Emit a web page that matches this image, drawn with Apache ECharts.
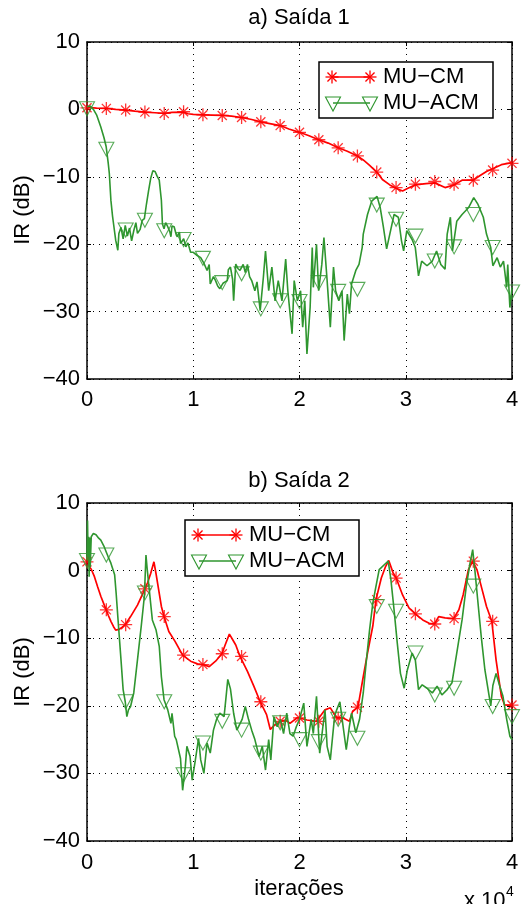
<!DOCTYPE html>
<html><head><meta charset="utf-8">
<script src="https://cdn.jsdelivr.net/npm/echarts@6/dist/echarts.min.js"></script>
<style>html,body{margin:0;padding:0;background:#fff}#c{width:526px;height:904px}</style>
</head><body><div id="c"></div>
<script>
// ---- data (x in units of 10^4 iterations, y in dB) ----
const xTicks = [0, 1, 2, 3, 4];
const yTicks = [-40, -30, -20, -10, 0, 10];
const markerX = [0, 0.182, 0.364, 0.545, 0.727, 0.909, 1.091, 1.273, 1.455, 1.636, 1.818, 2.0, 2.182, 2.364, 2.545, 2.727, 2.909, 3.091, 3.273, 3.455, 3.636, 3.818, 4.0];

// a) Saída 1
const cm1 = [[0,0.3],[0.09,0.2],[0.18,0.15],[0.27,0.0],[0.36,-0.1],[0.45,-0.25],[0.545,-0.4],[0.64,-0.5],[0.727,-0.6],[0.8,-0.45],[0.909,-0.4],[0.95,-0.65],[1.0,-0.75],[1.09,-0.8],[1.18,-0.85],[1.27,-0.9],[1.36,-1.0],[1.455,-1.2],[1.55,-1.5],[1.636,-1.85],[1.72,-2.1],[1.818,-2.4],[1.9,-2.9],[2.0,-3.4],[2.09,-3.9],[2.18,-4.5],[2.27,-5.0],[2.364,-5.7],[2.45,-6.2],[2.545,-6.9],[2.6,-7.5],[2.66,-8.3],[2.727,-9.3],[2.78,-10.4],[2.85,-11.2],[2.909,-11.7],[2.97,-12.1],[3.02,-11.7],[3.091,-11.2],[3.19,-11.0],[3.273,-10.9],[3.37,-11.6],[3.455,-11.2],[3.53,-10.5],[3.636,-10.5],[3.7,-9.8],[3.76,-9.2],[3.818,-8.8],[3.9,-8.2],[4.0,-7.9]];
const cm1Mk = [0.24,0.15,-0.1,-0.4,-0.6,-0.35,-0.8,-0.9,-1.2,-1.85,-2.4,-3.4,-4.5,-5.7,-6.9,-9.3,-11.6,-11.1,-10.7,-11.1,-10.5,-9.0,-8.0];
const acm1 = [[0,0.4],[0.03,0.5],[0.06,0.0],[0.09,-0.8],[0.13,-2.6],[0.16,-4.2],[0.18,-5.5],[0.2,-8.0],[0.21,-9.5],[0.225,-13.5],[0.24,-15.8],[0.25,-17.0],[0.27,-19.4],[0.29,-20.9],[0.30,-18.4],[0.32,-17.5],[0.34,-19.2],[0.36,-17.2],[0.38,-18.8],[0.40,-17.6],[0.42,-19.5],[0.44,-18.0],[0.46,-16.8],[0.475,-18.4],[0.50,-17.8],[0.52,-16.45],[0.54,-16.2],[0.56,-14.0],[0.58,-12.0],[0.60,-10.2],[0.62,-9.1],[0.64,-9.2],[0.66,-9.9],[0.68,-10.5],[0.69,-12.0],[0.70,-13.5],[0.71,-17.0],[0.725,-17.7],[0.74,-16.8],[0.76,-17.4],[0.78,-18.2],[0.79,-18.9],[0.80,-17.3],[0.82,-17.4],[0.84,-18.6],[0.85,-18.9],[0.87,-18.2],[0.88,-19.9],[0.91,-19.2],[0.93,-20.4],[0.95,-19.8],[0.975,-21.2],[1.0,-21.2],[1.03,-21.6],[1.07,-22.0],[1.1,-22.8],[1.13,-23.9],[1.15,-23.0],[1.16,-25.9],[1.19,-24.8],[1.21,-25.4],[1.23,-26.2],[1.25,-26.6],[1.28,-25.8],[1.32,-25.4],[1.33,-23.8],[1.35,-23.4],[1.37,-25.2],[1.38,-28.4],[1.40,-22.96],[1.42,-23.6],[1.44,-23.9],[1.47,-23.0],[1.49,-24.2],[1.51,-23.0],[1.53,-24.8],[1.55,-25.4],[1.58,-26.9],[1.6,-25.6],[1.63,-29.85],[1.66,-24.9],[1.68,-21],[1.71,-26.9],[1.74,-23.4],[1.77,-28.4],[1.80,-25.4],[1.835,-28.4],[1.87,-22.2],[1.89,-26.9],[1.93,-33.3],[1.95,-25.4],[1.98,-28.4],[2.01,-26.9],[2.03,-32.3],[2.05,-28.4],[2.07,-36.3],[2.10,-29.4],[2.12,-20.5],[2.13,-26.4],[2.16,-20],[2.18,-26.9],[2.21,-23],[2.23,-19],[2.26,-25.4],[2.29,-32.3],[2.32,-23.4],[2.34,-26.9],[2.37,-28.4],[2.40,-26.9],[2.42,-34.3],[2.45,-27.4],[2.47,-30.3],[2.49,-25.9],[2.53,-23.9],[2.56,-23],[2.59,-20.5],[2.60,-18.5],[2.64,-15.6],[2.68,-13.6],[2.73,-12.9],[2.76,-14.6],[2.79,-17.5],[2.82,-20.7],[2.85,-18.5],[2.89,-15.6],[2.93,-16],[2.96,-19.5],[2.98,-21],[3.01,-18],[3.06,-19.3],[3.09,-20.5],[3.12,-24.7],[3.15,-22.5],[3.2,-23.2],[3.25,-22.5],[3.29,-21],[3.33,-23],[3.37,-23.7],[3.39,-18.5],[3.42,-16],[3.44,-21],[3.48,-16.6],[3.53,-15.6],[3.59,-14.6],[3.64,-13.1],[3.68,-14.1],[3.73,-16],[3.76,-18.5],[3.80,-20.5],[3.82,-23.2],[3.86,-22],[3.89,-23.4],[3.92,-22.5],[3.95,-26.4],[3.96,-23],[3.98,-29.4],[4.0,-26.4]];
const acm1Mk = [0.1,-5.9,-17.9,-16.45,-18.0,-19.3,-22.1,-25.7,-24.4,-29.6,-28.4,-28.5,-25.7,-27.0,-26.7,-14.2,-16.3,-18.8,-22.5,-20.4,-15.6,-20.5,-27.1];

// b) Saída 2
const cm2 = [[0,1.5],[0.01,2.3],[0.02,0.6],[0.04,0.2],[0.07,-0.9],[0.10,-2.4],[0.13,-3.8],[0.16,-5.0],[0.18,-5.8],[0.2,-6.6],[0.225,-7.5],[0.25,-8.3],[0.27,-8.8],[0.30,-8.7],[0.32,-8.5],[0.36,-8.0],[0.41,-6.8],[0.475,-5.1],[0.54,-2.9],[0.57,-1.8],[0.60,-0.4],[0.63,1.3],[0.65,-0.5],[0.67,-2.4],[0.70,-5.3],[0.725,-6.8],[0.77,-9.0],[0.83,-10.5],[0.90,-12.5],[0.975,-13.4],[1.04,-13.8],[1.09,-13.9],[1.15,-14.2],[1.21,-13.4],[1.27,-12.3],[1.30,-11.0],[1.34,-9.4],[1.37,-10.2],[1.40,-11.0],[1.44,-12.7],[1.51,-14.9],[1.57,-17.1],[1.63,-19.4],[1.69,-21.3],[1.725,-23.5],[1.77,-22.8],[1.82,-22.3],[1.87,-22.1],[1.91,-22.6],[1.975,-21.8],[2.0,-21.8],[2.07,-22.1],[2.16,-22.3],[2.24,-20.6],[2.29,-20.3],[2.35,-21.8],[2.41,-21.8],[2.47,-22.3],[2.50,-20.8],[2.55,-20.2],[2.60,-15.7],[2.64,-12.2],[2.69,-8.2],[2.72,-4.3],[2.77,-1.1],[2.81,0.6],[2.84,1.5],[2.88,-0.3],[2.91,-1.1],[2.97,-3.6],[3.03,-5.5],[3.09,-6.4],[3.16,-7.3],[3.22,-7.8],[3.27,-7.9],[3.31,-6.8],[3.37,-7.0],[3.45,-7.1],[3.50,-5.8],[3.54,-3.6],[3.59,0.15],[3.63,1.4],[3.67,0.15],[3.71,-2.3],[3.76,-5.3],[3.81,-7.5],[3.85,-13.2],[3.9,-18.6],[3.93,-19.85],[4.0,-19.9]];
const cm2Mk = [1.3,-5.8,-8.0,-2.7,-6.8,-12.5,-13.9,-12.3,-12.7,-19.4,-22.3,-21.8,-22.3,-21.8,-20.2,-4.3,-1.1,-6.4,-7.9,-7.1,1.4,-7.5,-19.9];
const acm2 = [[0,1.5],[0.005,7.4],[0.01,2.0],[0.015,5.0],[0.02,-0.9],[0.025,4.9],[0.03,0.5],[0.04,5.0],[0.06,5.5],[0.085,5.3],[0.11,4.8],[0.13,4.5],[0.16,3.6],[0.18,2.8],[0.2,2.0],[0.225,1.1],[0.26,-0.6],[0.275,-3.5],[0.29,-6.8],[0.32,-13.2],[0.34,-17.6],[0.36,-19.4],[0.375,-21.6],[0.39,-20.6],[0.41,-20.1],[0.44,-18.1],[0.475,-13.2],[0.51,-8.3],[0.54,-3.8],[0.555,2.3],[0.565,0.5],[0.58,-1.9],[0.60,-5.0],[0.615,-7.3],[0.65,-8.8],[0.68,-11.2],[0.70,-15.7],[0.725,-19.1],[0.76,-20.6],[0.79,-22.6],[0.80,-21.1],[0.825,-24.5],[0.84,-25],[0.85,-24.8],[0.88,-27.8],[0.90,-32.5],[0.925,-29],[0.94,-26],[0.97,-27.5],[0.99,-31],[1.02,-28],[1.05,-24.8],[1.07,-28],[1.10,-30],[1.13,-25.5],[1.16,-27],[1.19,-23.6],[1.22,-22],[1.25,-21.1],[1.29,-21.6],[1.31,-18.5],[1.325,-16.1],[1.35,-17.5],[1.38,-21.1],[1.41,-23.6],[1.46,-22],[1.49,-20.1],[1.52,-22],[1.55,-23.6],[1.58,-25],[1.62,-27.5],[1.65,-26],[1.68,-29.5],[1.71,-25],[1.73,-28],[1.76,-21.6],[1.79,-23.1],[1.82,-22],[1.85,-24.1],[1.88,-21.1],[1.91,-24.1],[1.94,-24.5],[1.97,-23.1],[2.0,-22],[2.04,-19.6],[2.07,-26],[2.11,-22],[2.13,-24.1],[2.16,-18.6],[2.19,-27],[2.22,-23.1],[2.24,-20.6],[2.26,-26],[2.29,-28],[2.33,-21.6],[2.35,-20.6],[2.38,-19.4],[2.41,-23],[2.44,-26.5],[2.47,-23],[2.49,-21.1],[2.53,-24],[2.565,-22],[2.60,-18.1],[2.63,-13.2],[2.66,-8.7],[2.69,-4.8],[2.72,-2.3],[2.75,0.15],[2.80,0.9],[2.835,1.4],[2.86,-1.3],[2.89,-5.8],[2.92,-10.7],[2.95,-15.2],[2.985,-17.4],[3.015,-14.7],[3.06,-12.2],[3.09,-13.2],[3.12,-17.6],[3.155,-16.9],[3.20,-17.4],[3.25,-18.1],[3.295,-17.1],[3.34,-18.4],[3.39,-17.6],[3.435,-16.6],[3.48,-12.2],[3.53,-7.3],[3.57,-2.3],[3.605,1.1],[3.63,3.1],[3.65,0.15],[3.68,-4.8],[3.71,-9.7],[3.745,-14.7],[3.78,-18.1],[3.80,-20.0],[3.82,-17.0],[3.85,-15.2],[3.885,-17.1],[3.915,-18.6],[3.95,-22],[3.98,-24.5],[4.0,-25]];
const acm2Mk = [1.5,2.3,-19.4,-3.3,-19.4,-30.2,-25.5,-22.3,-23.6,-27.0,-22.5,-25.0,-25.3,-22.0,-24.8,-5.3,-6.0,-12.2,-18.4,-17.4,-2.3,-20.1,-21.6];

const titles = ['a) Saída 1', 'b) Saída 2'];
const seriesNames = ['MU\u2212CM', 'MU\u2212ACM'];
const yLabel = 'IR (dB)';
const xLabel = 'iterações';

// ---- styling ----
const FONT = '"Liberation Sans", Arial, Helvetica, sans-serif';
const RED = '#ff0000', GREEN = '#2f962f';
const ASTER = 'path://M10,0L10,20M0,10L20,10M3,3L17,17M3,17L17,3';
const TRI = 'path://M0,0L20,0L10,18Z';
function fmtY(v){ return v < 0 ? '\u2212' + Math.abs(v) : String(v); }

const gridDefs = [
  {left: 87, top: 42, width: 425, height: 337},
  {left: 87, top: 503, width: 425, height: 338}
];
const xMin = xTicks[0], xMax = xTicks[xTicks.length-1];
const yMin = yTicks[0], yMax = yTicks[yTicks.length-1];

const axLine = {show: true, onZero: false, lineStyle: {color: '#000', width: 1.5}};
const axTick = {show: true, inside: true, length: 4, lineStyle: {color: '#000', width: 1}};
const split = {show: true, lineStyle: {color: '#000', width: 1, type: [1, 5]}};

const xAxis = [], yAxis = [], series = [];
gridDefs.forEach((g, i) => {
  xAxis.push({type: 'value', gridIndex: i, min: xMin, max: xMax, interval: 1, position: 'bottom',
    axisLine: axLine, axisTick: axTick, splitLine: split,
    axisLabel: {show: true, margin: i ? 11 : 10, color: '#000', fontSize: 22, fontFamily: FONT}});
  yAxis.push({type: 'value', gridIndex: i, min: yMin, max: yMax, interval: 10, position: 'left',
    axisLine: axLine, axisTick: axTick, splitLine: split,
    axisLabel: {show: true, margin: 7, color: '#000', fontSize: 22, fontFamily: FONT, formatter: fmtY}});
});
gridDefs.forEach((g, i) => {
  xAxis.push({type: 'value', gridIndex: i, min: xMin, max: xMax, interval: 1, position: 'top',
    axisLine: axLine, axisTick: axTick, splitLine: {show: false}, axisLabel: {show: false}});
  yAxis.push({type: 'value', gridIndex: i, min: yMin, max: yMax, interval: 10, position: 'right',
    axisLine: axLine, axisTick: axTick, splitLine: {show: false}, axisLabel: {show: false}});
});

const sets = [[cm1, cm1Mk, acm1, acm1Mk], [cm2, cm2Mk, acm2, acm2Mk]];
sets.forEach((s, i) => {
  series.push({type: 'line', name: seriesNames[0], xAxisIndex: i, yAxisIndex: i, data: s[0],
    showSymbol: false, symbol: 'none', lineStyle: {color: RED, width: 1.7}, z: 2});
  series.push({type: 'scatter', xAxisIndex: i, yAxisIndex: i, data: markerX.map((x, k) => [x, s[1][k]]),
    symbol: ASTER, symbolSize: 13, itemStyle: {color: 'none', borderColor: RED, borderWidth: 1.3}, z: 3});
  series.push({type: 'line', name: seriesNames[1], xAxisIndex: i, yAxisIndex: i, data: s[2],
    showSymbol: false, symbol: 'none', lineStyle: {color: GREEN, width: 1.6}, z: 4});
  series.push({type: 'scatter', xAxisIndex: i, yAxisIndex: i, data: markerX.map((x, k) => [x, s[3][k]]),
    symbol: TRI, symbolSize: [15, 14], itemStyle: {color: 'none', borderColor: GREEN, borderWidth: 1.1}, z: 5});
});

// ---- annotations (titles, labels, legends) ----
const graphic = [];
function txt(x, y, text, size, align, rot, vAlign){
  graphic.push({type: 'text', x: x, y: y, rotation: rot || 0,
    style: {text: text, fontSize: size, fontFamily: FONT, fill: '#000', align: align || 'center', verticalAlign: vAlign || 'middle'}, z: 100});
}
function aster(cx, cy, r){
  const d = r * 0.7;
  [[0, -r, 0, r], [-r, 0, r, 0], [-d, -d, d, d], [-d, d, d, -d]].forEach(a => graphic.push({type: 'line',
    shape: {x1: cx + a[0], y1: cy + a[1], x2: cx + a[2], y2: cy + a[3]}, style: {stroke: RED, lineWidth: 1.3}, z: 102}));
}
function tri(cx, cy){
  graphic.push({type: 'polygon', shape: {points: [[cx - 7.5, cy - 7], [cx + 7.5, cy - 7], [cx, cy + 7]]},
    style: {fill: 'none', stroke: GREEN, lineWidth: 1.1}, z: 102});
}
function legend(bx, by){
  graphic.push({type: 'rect', shape: {x: bx, y: by, width: 174, height: 56}, style: {fill: '#fff', stroke: '#000', lineWidth: 1.5}, z: 100});
  const y1 = by + 15, y2 = by + 41;
  graphic.push({type: 'line', shape: {x1: bx + 13, y1: y1, x2: bx + 51, y2: y1}, style: {stroke: RED, lineWidth: 1.7}, z: 101});
  aster(bx + 13, y1, 6.5); aster(bx + 51, y1, 6.5);
  graphic.push({type: 'line', shape: {x1: bx + 14, y1: y2, x2: bx + 51, y2: y2}, style: {stroke: GREEN, lineWidth: 1.6}, z: 101});
  tri(bx + 14, y2 + 1); tri(bx + 51, y2 + 1);
  txt(bx + 64, y1, seriesNames[0], 22, 'left');
  txt(bx + 64, y2, seriesNames[1], 22, 'left');
}
txt(299, 18, titles[0], 22);
txt(299, 481, titles[1], 22);
txt(23, 210, yLabel, 22, 'center', Math.PI / 2);
txt(23, 672, yLabel, 22, 'center', Math.PI / 2);
txt(299, 889, xLabel, 22);
txt(464, 890, 'x 10', 22, 'left', 0, 'top');
txt(506, 885, '4', 14, 'left', 0, 'top');
legend(319, 62);
legend(185, 520);

const chart = echarts.init(document.getElementById('c'), null, {renderer: 'canvas'});
chart.setOption({
  backgroundColor: '#fff',
  animation: false,
  grid: gridDefs,
  xAxis: xAxis,
  yAxis: yAxis,
  series: series,
  graphic: graphic
});
</script>
</body></html>
